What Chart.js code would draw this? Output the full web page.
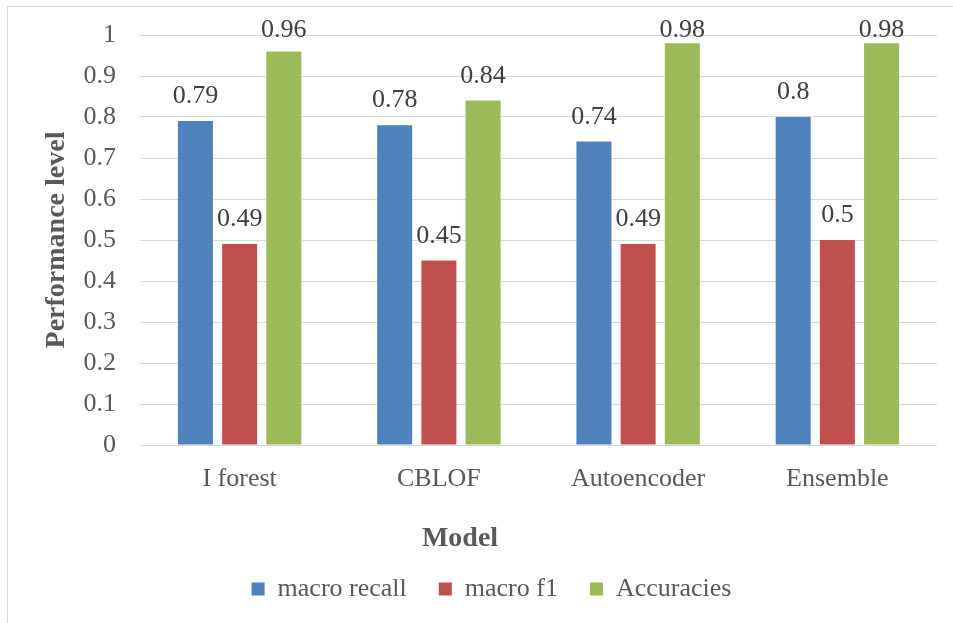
<!DOCTYPE html>
<html>
<head>
<meta charset="utf-8">
<script src="https://cdn.jsdelivr.net/npm/chart.js@4/dist/chart.umd.min.js"></script>
<style>
  html, body { margin: 0; padding: 0; background: #ffffff; overflow: hidden; }
  canvas { display: block; }
</style>
</head>
<body>
<canvas id="chart" width="953" height="623"></canvas>
<script>
// Models compared
const categories = ['I forest', 'CBLOF', 'Autoencoder', 'Ensemble'];

// Scores per model
const macroRecall = [0.79, 0.78, 0.74, 0.8];
const macroF1 = [0.49, 0.45, 0.49, 0.5];
const accuracies = [0.96, 0.84, 0.98, 0.98];

// Series names for the legend
const seriesNames = ['macro recall', 'macro f1', 'Accuracies'];

// Y-axis tick labels, 0 to 1 in steps of 0.1
const yTickLabels = ['0', '0.1', '0.2', '0.3', '0.4', '0.5', '0.6', '0.7', '0.8', '0.9', '1'];

// Axis titles
const xAxisTitle = 'Model';
const yAxisTitle = 'Performance level';

const SERIF = '"Liberation Serif", "Times New Roman", serif';
const GRID = '#d9d9d9';
const TEXT = '#595959';

// White background plus the thin frame around the chart
const frame = {
  id: 'frame',
  beforeDraw(chart) {
    const { ctx, width, height } = chart;
    ctx.save();
    ctx.fillStyle = '#ffffff';
    ctx.fillRect(0, 0, width, height);
    ctx.strokeStyle = GRID;
    ctx.lineWidth = 1;
    ctx.beginPath();
    ctx.moveTo(7.5, height);
    ctx.lineTo(7.5, 6.5);
    ctx.lineTo(width, 6.5);
    ctx.stroke();
    ctx.restore();
  }
};

// Value labels above each bar, kept inside the plot's top edge
const valueLabels = {
  id: 'valueLabels',
  afterDatasetsDraw(chart) {
    const { ctx, chartArea } = chart;
    ctx.save();
    ctx.font = '26px ' + SERIF;
    ctx.fillStyle = '#404040';
    ctx.textAlign = 'center';
    ctx.textBaseline = 'alphabetic';
    chart.data.datasets.forEach((ds, di) => {
      const meta = chart.getDatasetMeta(di);
      meta.data.forEach((bar, i) => {
        const y = Math.max(bar.y - 18, chartArea.top + 2);
        ctx.fillText(String(ds.data[i]), bar.x, y);
      });
    });
    ctx.restore();
  }
};

// Category-axis title, sitting left of the plot centre
const xTitle = {
  id: 'xTitle',
  afterDraw(chart) {
    const { ctx, chartArea } = chart;
    ctx.save();
    ctx.font = 'bold 28px ' + SERIF;
    ctx.fillStyle = TEXT;
    ctx.textAlign = 'center';
    ctx.textBaseline = 'alphabetic';
    ctx.fillText(xAxisTitle, chartArea.left + 320, chartArea.bottom + 101);
    ctx.restore();
  }
};

new Chart(document.getElementById('chart'), {
  type: 'bar',
  data: {
    labels: categories,
    datasets: [
      { label: seriesNames[0], data: macroRecall, backgroundColor: '#4f81bd' },
      { label: seriesNames[1], data: macroF1, backgroundColor: '#c0504d' },
      { label: seriesNames[2], data: accuracies, backgroundColor: '#9bbb59' }
    ]
  },
  options: {
    responsive: false,
    animation: false,
    events: [],
    layout: { padding: { top: 35, right: 16, left: 46, bottom: 11 } },
    datasets: {
      bar: { categoryPercentage: 0.6655, barPercentage: 0.792 }
    },
    plugins: {
      title: { display: false },
      tooltip: { enabled: false },
      legend: {
        position: 'bottom',
        labels: {
          boxWidth: 13,
          boxHeight: 13,
          padding: 32,
          color: TEXT,
          font: { family: SERIF, size: 26 }
        }
      }
    },
    scales: {
      x: {
        grid: { display: false },
        border: { display: false },
        ticks: {
          color: TEXT,
          padding: 11,
          font: { family: SERIF, size: 26 }
        },
        title: { display: false },
        afterFit(scale) { scale.height = 99; }
      },
      y: {
        min: 0,
        max: 1,
        grid: { color: GRID, lineWidth: 1, drawTicks: false },
        border: { display: false },
        ticks: {
          stepSize: 0.1,
          color: TEXT,
          padding: 24,
          font: { family: SERIF, size: 26 },
          callback: (v, i) => yTickLabels[i]
        },
        title: {
          display: true,
          text: yAxisTitle,
          color: TEXT,
          padding: { top: -3, bottom: 0 },
          font: { family: SERIF, size: 28, weight: 'bold', lineHeight: 1 }
        },
        afterFit(scale) {
          scale.width = 94;
          scale.paddingTop = 0;
          scale.paddingBottom = 0;
        }
      }
    }
  },
  plugins: [frame, valueLabels, xTitle]
});
</script>
</body>
</html>
